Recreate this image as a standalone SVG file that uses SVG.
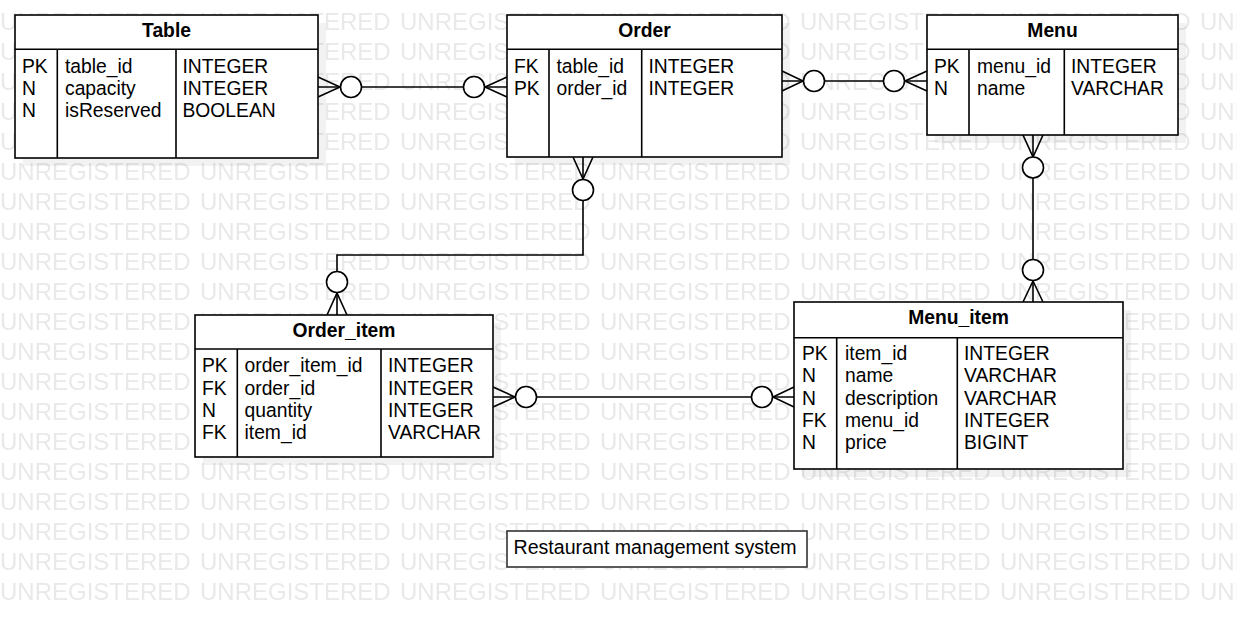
<svg xmlns="http://www.w3.org/2000/svg" width="1237" height="627" viewBox="0 0 1237 627">
<style>
text{font-family:"Liberation Sans",Arial,sans-serif;font-size:19.3px;fill:#000}
.t{font-weight:bold;text-anchor:middle}
.wm{font-size:24px;fill:#e9e9e9}
.box{fill:#fff;stroke:#000;stroke-width:1.6}
.sh{fill:#000;fill-opacity:0.05}
.ln{stroke:#000;stroke-width:1.6;fill:none}
.c{fill:#fff;stroke:#000;stroke-width:1.6}
</style>
<defs>
<pattern id="wmp" patternUnits="userSpaceOnUse" x="0" y="10" width="200" height="30">
<text class="wm" x="0" y="20">UNREGISTERED</text>
</pattern>
</defs>
<rect width="1237" height="627" fill="#fff"/>
<rect id="watermark" x="0" y="10" width="1237" height="600" fill="url(#wmp)"/>

<g id="connectors">
<path class="ln" d="M318,87H507"/>
<path class="ln" d="M318,77L340,87L318,97"/>
<circle class="c" cx="351" cy="87" r="10.5"/>
<path class="ln" d="M507,77L485,87L507,97"/>
<circle class="c" cx="474" cy="87" r="10.5"/>

<path class="ln" d="M782,81H927"/>
<path class="ln" d="M782,71L803,81L782,91"/>
<circle class="c" cx="814" cy="81" r="10.5"/>
<path class="ln" d="M927,71L905,81L927,91"/>
<circle class="c" cx="894" cy="81" r="10.5"/>

<path class="ln" d="M583,157V255H337V315"/>
<path class="ln" d="M573,157L583,179L593,157"/>
<circle class="c" cx="583" cy="190" r="10.5"/>
<path class="ln" d="M327,315L337,293L347,315"/>
<circle class="c" cx="337" cy="282" r="10.5"/>

<path class="ln" d="M493,397H794"/>
<path class="ln" d="M493,387L515,397L493,407"/>
<circle class="c" cx="526" cy="397" r="10.5"/>
<path class="ln" d="M794,387L773,397L794,407"/>
<circle class="c" cx="762" cy="397" r="10.5"/>

<path class="ln" d="M1033,135V302"/>
<path class="ln" d="M1023,135L1033,157L1043,135"/>
<circle class="c" cx="1033" cy="167.5" r="10.5"/>
<path class="ln" d="M1023,302L1033,281L1043,302"/>
<circle class="c" cx="1033" cy="270" r="10.5"/>
</g>

<g id="table">
<rect class="sh" x="23" y="23" width="303" height="143"/>
<rect class="box" x="15" y="15" width="303" height="143"/>
<path class="ln" d="M15,49.3H318M57.3,49.3V158M176,49.3V158"/>
<text class="t" x="166.5" y="36.5">Table</text>
<text x="22" y="72.7">PK</text><text x="65" y="72.7">table_id</text><text x="182.5" y="72.7">INTEGER</text>
<text x="22" y="95">N</text><text x="65" y="95">capacity</text><text x="182.5" y="95">INTEGER</text>
<text x="22" y="117.3">N</text><text x="65" y="117.3">isReserved</text><text x="182.5" y="117.3">BOOLEAN</text>
</g>

<g id="order">
<rect class="sh" x="515" y="23" width="275" height="142"/>
<rect class="box" x="507" y="15" width="275" height="142"/>
<path class="ln" d="M507,49.3H782M549,49.3V157M641.7,49.3V157"/>
<text class="t" x="644.5" y="36.5">Order</text>
<text x="514" y="72.7">FK</text><text x="556.5" y="72.7">table_id</text><text x="648.5" y="72.7">INTEGER</text>
<text x="514" y="95">PK</text><text x="556.5" y="95">order_id</text><text x="648.5" y="95">INTEGER</text>
</g>

<g id="menu">
<rect class="sh" x="935" y="23" width="251" height="120"/>
<rect class="box" x="927" y="15" width="251" height="120"/>
<path class="ln" d="M927,49.3H1178M969,49.3V135M1064.3,49.3V135"/>
<text class="t" x="1052.5" y="36.5">Menu</text>
<text x="934" y="72.7">PK</text><text x="977" y="72.7">menu_id</text><text x="1071" y="72.7">INTEGER</text>
<text x="934" y="95">N</text><text x="977" y="95">name</text><text x="1071" y="95">VARCHAR</text>
</g>

<g id="order_item">
<rect class="sh" x="203" y="323" width="298" height="142"/>
<rect class="box" x="195" y="315" width="298" height="142"/>
<path class="ln" d="M195,349H493M237.3,349V457M381,349V457"/>
<text class="t" x="344" y="336.7">Order_item</text>
<text x="202" y="372.3">PK</text><text x="244.5" y="372.3">order_item_id</text><text x="388" y="372.3">INTEGER</text>
<text x="202" y="394.7">FK</text><text x="244.5" y="394.7">order_id</text><text x="388" y="394.7">INTEGER</text>
<text x="202" y="417">N</text><text x="244.5" y="417">quantity</text><text x="388" y="417">INTEGER</text>
<text x="202" y="439.3">FK</text><text x="244.5" y="439.3">item_id</text><text x="388" y="439.3">VARCHAR</text>
</g>

<g id="menu_item">
<rect class="sh" x="802" y="310" width="329" height="167"/>
<rect class="box" x="794" y="302" width="329" height="167"/>
<path class="ln" d="M794,337.7H1123M836.7,337.7V469M957.3,337.7V469"/>
<text class="t" x="958.5" y="324.3">Menu_item</text>
<text x="802" y="360">PK</text><text x="845" y="360">item_id</text><text x="964" y="360">INTEGER</text>
<text x="802" y="382.3">N</text><text x="845" y="382.3">name</text><text x="964" y="382.3">VARCHAR</text>
<text x="802" y="404.7">N</text><text x="845" y="404.7">description</text><text x="964" y="404.7">VARCHAR</text>
<text x="802" y="427">FK</text><text x="845" y="427">menu_id</text><text x="964" y="427">INTEGER</text>
<text x="802" y="449.3">N</text><text x="845" y="449.3">price</text><text x="964" y="449.3">BIGINT</text>
</g>

<g id="caption">
<rect x="507" y="531" width="300" height="36" fill="#fff" stroke="#333" stroke-width="1.6"/>
<text x="513.5" y="554" style="font-size:19.6px">Restaurant management system</text>
</g>
</svg>
